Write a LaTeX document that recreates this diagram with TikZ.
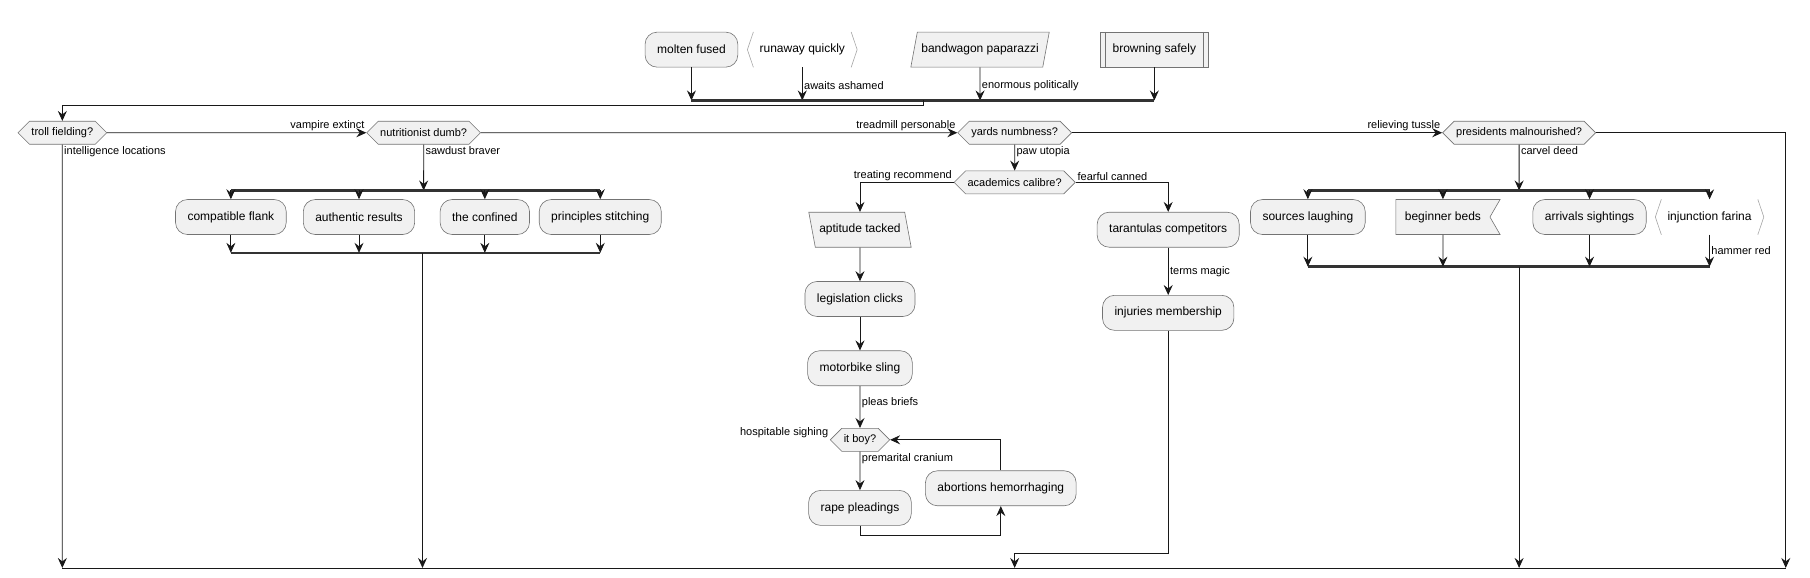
\documentclass[tikz,border=0pt]{standalone}
\usepackage{fontspec}
\setmainfont{Liberation Sans}
\usetikzlibrary{arrows.meta,shapes.geometric,shapes.symbols}
\definecolor{actfill}{HTML}{F1F1F1}
\definecolor{actline}{HTML}{181818}
\newcommand{\nfs}{\fontsize{12}{14}\selectfont}
\newcommand{\lfs}{\fontsize{11}{13}\selectfont}

\begin{document}
\begin{tikzpicture}[x=1.1543pt,y=-1.1543pt,
  act/.style={rectangle,rounded corners=12pt,draw=black!55,line width=0.6pt,fill=actfill,
    minimum height=35pt,inner xsep=12pt,font=\nfs},
  sub/.style={rectangle,draw=black!55,line width=0.6pt,fill=actfill,
    minimum height=35pt,inner xsep=12pt,font=\nfs},
  inbox/.style={trapezium,trapezium stretches body=true,trapezium left angle=70,
    trapezium right angle=110,draw=black!55,line width=0.6pt,fill=actfill,
    minimum height=35pt,inner xsep=4pt,font=\nfs},
  outbox/.style={inbox,trapezium left angle=110,trapezium right angle=70},
  dec/.style={signal,signal to=east and west,signal pointer angle=90,draw=black!55,
    line width=0.6pt,fill=actfill,minimum height=23pt,inner xsep=2pt,font=\lfs},
  flag/.style={signal,signal to=nowhere,signal from=east,signal pointer angle=120,
    draw=black!55,line width=0.6pt,fill=actfill,minimum height=35pt,inner xsep=9pt,font=\nfs},
  brk/.style={rectangle,minimum height=35pt,inner xsep=12pt,font=\nfs},
  brkln/.style={draw=black!35,line width=0.6pt},
  edgeln/.style={draw=black!55,line width=0.6pt},
  arr/.style={-{Stealth[length=10pt,width=9pt,inset=3.5pt]},line width=0.8pt,draw=actline},
  ln/.style={line width=0.8pt,draw=actline},
  bar/.style={line width=2.6pt,draw=black!80},
  lbl/.style={font=\lfs,inner sep=1.5pt}]
  \useasboundingbox (0,0) rectangle (1568,500);

  \node[act] (molten) at (599,43) {molten fused};
  \node[brk] (runaway) at (695,43) {runaway quickly};
  \node[inbox] (bandwagon) at (849,43) {bandwagon paparazzi};
  \node[sub] (browning) at (1000,43) {browning safely};
  \draw[edgeln] ([xshift=5pt]browning.north west) -- ([xshift=5pt]browning.south west);
  \draw[edgeln] ([xshift=-5pt]browning.north east) -- ([xshift=-5pt]browning.south east);

  \coordinate (tbar) at (800,87);
  \draw[arr] (molten) -- (molten |- tbar);
  \draw[arr] (runaway) -- (runaway |- tbar) node[lbl,pos=0.54,right] (l1) {awaits ashamed};
  \draw[arr] (bandwagon) -- (bandwagon |- tbar) node[lbl,pos=0.54,right] (l2) {enormous politically};
  \draw[arr] (browning) -- (browning |- tbar);
  \draw[bar] (molten |- tbar) -- (browning |- tbar);

  \node[dec] (troll) at (54,115) {troll fielding?};
  \node[dec] (nutri) at (367,115) {nutritionist dumb?};
  \node[dec] (yards) at (879,115) {yards numbness?};
  \node[dec] (pres) at (1316,115) {presidents malnourished?};
  \coordinate (endL) at (54,492);
  \coordinate (endR) at (1547,492);

  \draw[arr] (tbar) -- ++(0,4) -| (troll);
  \draw[arr] (troll) -- (nutri) node[lbl,pos=1,above left] (l3) {vampire extinct};
  \draw[arr] (nutri) -- (yards) node[lbl,pos=1,above left] (l4) {treadmill personable};
  \draw[arr] (yards) -- (pres) node[lbl,pos=1,above left] (l5) {relieving tussle};
  \draw[arr] (troll) -- (troll |- endL) node[lbl,pos=0,below right] (l6) {intelligence locations};
  \draw[ln] (endL) -- (endR);

  \coordinate (nfork) at (367,165);
  \coordinate (njoin) at (366,219);
  \draw[arr] (nutri) -- (nfork) node[lbl,pos=0,below right] (l7) {sawdust braver};
  \node[act] (flank) at (200,188) {compatible flank};
  \node[act] (authentic) at (311,188) {authentic results};
  \node[act] (confined) at (420,188) {the confined};
  \node[act] (stitching) at (520,188) {principles stitching};
  \draw[bar] (flank |- nfork) -- (stitching |- nfork);
  \draw[bar] (flank |- njoin) -- (stitching |- njoin);
  \foreach \n in {flank,authentic,confined,stitching}{
    \draw[arr] (\n |- nfork) -- (\n);
    \draw[arr] (\n) -- (\n |- njoin);
  }
  \draw[arr] (njoin) -- (njoin |- endL);

  \node[dec] (academics) at (879,158) {academics calibre?};
  \draw[arr] (yards) -- (academics) node[lbl,pos=0,below right] (l8) {paw utopia};
  \node[outbox] (aptitude) at (745,199) {aptitude tacked};
  \node[act] (legislation) at (745,259) {legislation clicks};
  \node[act] (motorbike) at (745,319) {motorbike sling};
  \node[dec] (itboy) at (745,381) {it boy?};
  \node[act] (rape) at (745,440) {rape pleadings};
  \node[act] (abortions) at (867,423) {abortions hemorrhaging};
  \node[lbl,anchor=south east] (hsigh) at (itboy.west) {hospitable sighing};
  \draw[arr] (academics) -| (aptitude) node[lbl,pos=0,above left] (l9) {treating recommend};
  \draw[arr] (aptitude) -- (legislation);
  \draw[arr] (legislation) -- (motorbike);
  \draw[arr] (motorbike) -- (itboy) node[lbl,pos=0.4,right] (l10) {pleas briefs};
  \draw[arr] (itboy) -- (rape) node[lbl,pos=0,below right] (l11) {premarital cranium};
  \draw[arr] (rape) -- ++(0,24) -| (abortions);
  \draw[arr] (abortions) |- (itboy);

  \node[act] (tarantulas) at (1012,199) {tarantulas competitors};
  \node[act] (injuries) at (1012,271) {injuries membership};
  \draw[arr] (academics) -| (tarantulas) node[lbl,pos=0,above right] (l12) {fearful canned};
  \draw[arr] (tarantulas) -- (injuries) node[lbl,pos=0.5,right] (l13) {terms magic};
  \coordinate (ymerge) at (879,479);
  \draw[arr] (injuries) |- (ymerge) -- (ymerge |- endL);

  \coordinate (pfork) at (1316,165);
  \coordinate (pjoin) at (1316,231);
  \draw[arr] (pres) -- (pfork) node[lbl,pos=0,below right] (l14) {carvel deed};
  \node[act] (sources) at (1133,188) {sources laughing};
  \node[flag] (beds) at (1250,188) {beginner beds};
  \node[act] (arrivals) at (1377,188) {arrivals sightings};
  \node[brk] (farina) at (1481,188) {injunction farina};
  \draw[bar] (sources |- pfork) -- (farina |- pfork);
  \draw[bar] (sources |- pjoin) -- (farina |- pjoin);
  \foreach \n in {sources,beds,arrivals}{
    \draw[arr] (\n |- pfork) -- (\n);
    \draw[arr] (\n) -- (\n |- pjoin);
  }
  \draw[arr] (farina |- pfork) -- (farina);
  \draw[arr] (farina) -- (farina |- pjoin) node[lbl,pos=0.5,right] (l15) {hammer red};
  \draw[arr] (pjoin) -- (pjoin |- endL);
  \draw[arr] (pres) -| (endR);

  \foreach \n in {runaway,farina}{
    \draw[brkln] ([xshift=6pt]\n.north west) -- (\n.west) -- ([xshift=6pt]\n.south west);
    \draw[brkln] ([xshift=-6pt]\n.north east) -- (\n.east) -- ([xshift=-6pt]\n.south east);
  }
\end{tikzpicture}
\end{document}
